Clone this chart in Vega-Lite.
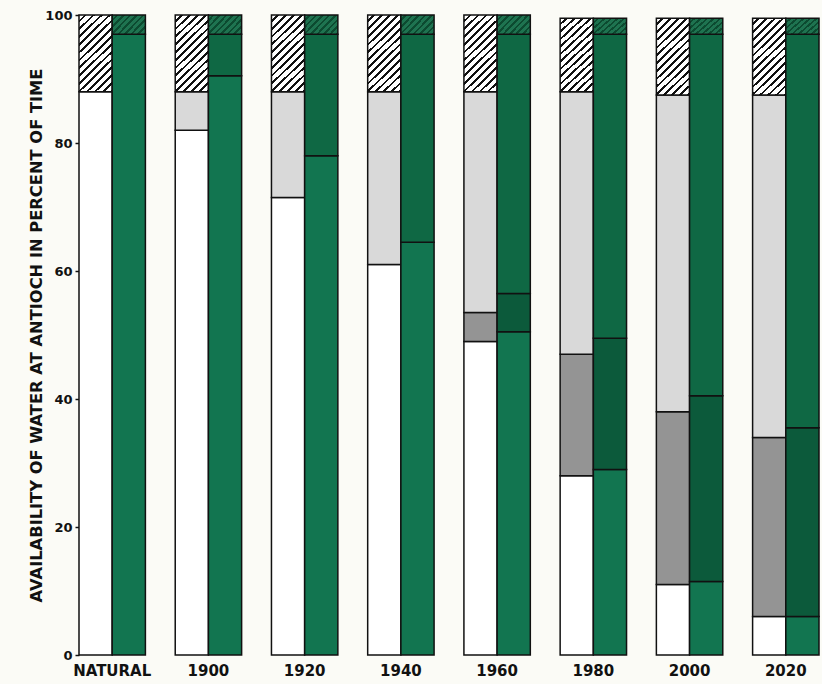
{
  "$schema": "https://vega.github.io/schema/vega-lite/v6.json",
  "autosize": {"type": "none"},
  "padding": {"left": 79, "top": 15, "right": 3, "bottom": 29},
  "width": 740,
  "height": 640,
  "background": "#fbfbf6",
  "config": {"view": {"stroke": null}, "axis": {"grid": false}},
  "data": {
    "values": [
      {"period": "NATURAL", "bar": "left", "segment": 1, "kind": "L1", "share": 88},
      {"period": "NATURAL", "bar": "left", "segment": 4, "kind": "L4", "share": 12},
      {"period": "NATURAL", "bar": "right", "segment": 1, "kind": "G1", "share": 97},
      {"period": "NATURAL", "bar": "right", "segment": 4, "kind": "G4", "share": 3},
      {"period": "1900", "bar": "left", "segment": 1, "kind": "L1", "share": 82},
      {"period": "1900", "bar": "left", "segment": 3, "kind": "L3", "share": 6},
      {"period": "1900", "bar": "left", "segment": 4, "kind": "L4", "share": 12},
      {"period": "1900", "bar": "right", "segment": 1, "kind": "G1", "share": 90.5},
      {"period": "1900", "bar": "right", "segment": 3, "kind": "G3", "share": 6.5},
      {"period": "1900", "bar": "right", "segment": 4, "kind": "G4", "share": 3},
      {"period": "1920", "bar": "left", "segment": 1, "kind": "L1", "share": 71.5},
      {"period": "1920", "bar": "left", "segment": 3, "kind": "L3", "share": 16.5},
      {"period": "1920", "bar": "left", "segment": 4, "kind": "L4", "share": 12},
      {"period": "1920", "bar": "right", "segment": 1, "kind": "G1", "share": 78},
      {"period": "1920", "bar": "right", "segment": 3, "kind": "G3", "share": 19},
      {"period": "1920", "bar": "right", "segment": 4, "kind": "G4", "share": 3},
      {"period": "1940", "bar": "left", "segment": 1, "kind": "L1", "share": 61},
      {"period": "1940", "bar": "left", "segment": 3, "kind": "L3", "share": 27},
      {"period": "1940", "bar": "left", "segment": 4, "kind": "L4", "share": 12},
      {"period": "1940", "bar": "right", "segment": 1, "kind": "G1", "share": 64.5},
      {"period": "1940", "bar": "right", "segment": 3, "kind": "G3", "share": 32.5},
      {"period": "1940", "bar": "right", "segment": 4, "kind": "G4", "share": 3},
      {"period": "1960", "bar": "left", "segment": 1, "kind": "L1", "share": 49},
      {"period": "1960", "bar": "left", "segment": 2, "kind": "L2", "share": 4.5},
      {"period": "1960", "bar": "left", "segment": 3, "kind": "L3", "share": 34.5},
      {"period": "1960", "bar": "left", "segment": 4, "kind": "L4", "share": 12},
      {"period": "1960", "bar": "right", "segment": 1, "kind": "G1", "share": 50.5},
      {"period": "1960", "bar": "right", "segment": 2, "kind": "G2", "share": 6},
      {"period": "1960", "bar": "right", "segment": 3, "kind": "G3", "share": 40.5},
      {"period": "1960", "bar": "right", "segment": 4, "kind": "G4", "share": 3},
      {"period": "1980", "bar": "left", "segment": 1, "kind": "L1", "share": 28},
      {"period": "1980", "bar": "left", "segment": 2, "kind": "L2", "share": 19},
      {"period": "1980", "bar": "left", "segment": 3, "kind": "L3", "share": 41},
      {"period": "1980", "bar": "left", "segment": 4, "kind": "L4", "share": 11.5},
      {"period": "1980", "bar": "right", "segment": 1, "kind": "G1", "share": 29},
      {"period": "1980", "bar": "right", "segment": 2, "kind": "G2", "share": 20.5},
      {"period": "1980", "bar": "right", "segment": 3, "kind": "G3", "share": 47.5},
      {"period": "1980", "bar": "right", "segment": 4, "kind": "G4", "share": 2.5},
      {"period": "2000", "bar": "left", "segment": 1, "kind": "L1", "share": 11},
      {"period": "2000", "bar": "left", "segment": 2, "kind": "L2", "share": 27},
      {"period": "2000", "bar": "left", "segment": 3, "kind": "L3", "share": 49.5},
      {"period": "2000", "bar": "left", "segment": 4, "kind": "L4", "share": 12},
      {"period": "2000", "bar": "right", "segment": 1, "kind": "G1", "share": 11.5},
      {"period": "2000", "bar": "right", "segment": 2, "kind": "G2", "share": 29},
      {"period": "2000", "bar": "right", "segment": 3, "kind": "G3", "share": 56.5},
      {"period": "2000", "bar": "right", "segment": 4, "kind": "G4", "share": 2.5},
      {"period": "2020", "bar": "left", "segment": 1, "kind": "L1", "share": 6},
      {"period": "2020", "bar": "left", "segment": 2, "kind": "L2", "share": 28},
      {"period": "2020", "bar": "left", "segment": 3, "kind": "L3", "share": 53.5},
      {"period": "2020", "bar": "left", "segment": 4, "kind": "L4", "share": 12},
      {"period": "2020", "bar": "right", "segment": 1, "kind": "G1", "share": 6},
      {"period": "2020", "bar": "right", "segment": 2, "kind": "G2", "share": 29.5},
      {"period": "2020", "bar": "right", "segment": 3, "kind": "G3", "share": 61.5},
      {"period": "2020", "bar": "right", "segment": 4, "kind": "G4", "share": 2.5}
    ]
  },
  "mark": {"type": "bar", "stroke": "#111111", "strokeWidth": 1.5, "strokeJoin": "miter"},
  "encoding": {
    "x": {
      "field": "period",
      "type": "nominal",
      "sort": null,
      "scale": {"paddingInner": 0.31, "paddingOuter": 0},
      "axis": {
        "title": null,
        "domain": false,
        "ticks": false,
        "tickSize": 0,
        "labelAngle": 0,
        "labelFont": "DejaVu Sans",
        "labelFontWeight": "bold",
        "labelFontSize": 15,
        "labelPadding": 8,
        "labelColor": "#111111"
      }
    },
    "xOffset": {
      "field": "bar",
      "type": "nominal",
      "sort": ["left", "right"],
      "scale": {"paddingInner": 0, "paddingOuter": 0}
    },
    "y": {
      "field": "share",
      "type": "quantitative",
      "stack": "zero",
      "scale": {"domain": [0, 100], "nice": false},
      "axis": {
        "values": [0, 20, 40, 60, 80, 100],
        "domain": false,
        "tickSize": 4,
        "tickWidth": 1.5,
        "tickColor": "#111111",
        "labelFont": "DejaVu Sans",
        "labelFontWeight": "bold",
        "labelFontSize": 13,
        "labelColor": "#111111",
        "labelPadding": 3,
        "title": "AVAILABILITY OF WATER AT ANTIOCH IN PERCENT OF TIME",
        "titleFont": "DejaVu Sans",
        "titleFontSize": 16.3,
        "titleFontWeight": "bold",
        "titleColor": "#111111",
        "titlePadding": 0
      }
    },
    "order": {"field": "segment", "type": "quantitative"},
    "color": {
      "condition": [
        {
          "test": "datum.kind === 'L4'",
          "value": {
            "gradient": "linear", "x1": 0, "y1": 0, "x2": 0.507, "y2": 1.207,
            "stops": [
              {"offset": 0, "color": "#ffffff"}, {"offset": 0.0464, "color": "#ffffff"}, {"offset": 0.0464, "color": "#111111"}, {"offset": 0.0714, "color": "#111111"},
              {"offset": 0.0714, "color": "#ffffff"}, {"offset": 0.1179, "color": "#ffffff"}, {"offset": 0.1179, "color": "#111111"}, {"offset": 0.1429, "color": "#111111"},
              {"offset": 0.1429, "color": "#ffffff"}, {"offset": 0.1893, "color": "#ffffff"}, {"offset": 0.1893, "color": "#111111"}, {"offset": 0.2143, "color": "#111111"},
              {"offset": 0.2143, "color": "#ffffff"}, {"offset": 0.2607, "color": "#ffffff"}, {"offset": 0.2607, "color": "#111111"}, {"offset": 0.2857, "color": "#111111"},
              {"offset": 0.2857, "color": "#ffffff"}, {"offset": 0.3321, "color": "#ffffff"}, {"offset": 0.3321, "color": "#111111"}, {"offset": 0.3571, "color": "#111111"},
              {"offset": 0.3571, "color": "#ffffff"}, {"offset": 0.4036, "color": "#ffffff"}, {"offset": 0.4036, "color": "#111111"}, {"offset": 0.4286, "color": "#111111"},
              {"offset": 0.4286, "color": "#ffffff"}, {"offset": 0.475, "color": "#ffffff"}, {"offset": 0.475, "color": "#111111"}, {"offset": 0.5, "color": "#111111"},
              {"offset": 0.5, "color": "#ffffff"}, {"offset": 0.5464, "color": "#ffffff"}, {"offset": 0.5464, "color": "#111111"}, {"offset": 0.5714, "color": "#111111"},
              {"offset": 0.5714, "color": "#ffffff"}, {"offset": 0.6179, "color": "#ffffff"}, {"offset": 0.6179, "color": "#111111"}, {"offset": 0.6429, "color": "#111111"},
              {"offset": 0.6429, "color": "#ffffff"}, {"offset": 0.6893, "color": "#ffffff"}, {"offset": 0.6893, "color": "#111111"}, {"offset": 0.7143, "color": "#111111"},
              {"offset": 0.7143, "color": "#ffffff"}, {"offset": 0.7607, "color": "#ffffff"}, {"offset": 0.7607, "color": "#111111"}, {"offset": 0.7857, "color": "#111111"},
              {"offset": 0.7857, "color": "#ffffff"}, {"offset": 0.8321, "color": "#ffffff"}, {"offset": 0.8321, "color": "#111111"}, {"offset": 0.8571, "color": "#111111"},
              {"offset": 0.8571, "color": "#ffffff"}, {"offset": 0.9036, "color": "#ffffff"}, {"offset": 0.9036, "color": "#111111"}, {"offset": 0.9286, "color": "#111111"},
              {"offset": 0.9286, "color": "#ffffff"}, {"offset": 0.975, "color": "#ffffff"}, {"offset": 0.975, "color": "#111111"}, {"offset": 1, "color": "#111111"}
            ]
          }
        },
        {
          "test": "datum.kind === 'G4'",
          "value": {
            "gradient": "linear", "x1": 0, "y1": 0, "x2": 1.19, "y2": 0.664,
            "stops": [
              {"offset": 0, "color": "#1e7350"}, {"offset": 0.075, "color": "#1e7350"}, {"offset": 0.075, "color": "#0c4a30"}, {"offset": 0.125, "color": "#0c4a30"},
              {"offset": 0.125, "color": "#1e7350"}, {"offset": 0.2, "color": "#1e7350"}, {"offset": 0.2, "color": "#0c4a30"}, {"offset": 0.25, "color": "#0c4a30"},
              {"offset": 0.25, "color": "#1e7350"}, {"offset": 0.325, "color": "#1e7350"}, {"offset": 0.325, "color": "#0c4a30"}, {"offset": 0.375, "color": "#0c4a30"},
              {"offset": 0.375, "color": "#1e7350"}, {"offset": 0.45, "color": "#1e7350"}, {"offset": 0.45, "color": "#0c4a30"}, {"offset": 0.5, "color": "#0c4a30"},
              {"offset": 0.5, "color": "#1e7350"}, {"offset": 0.575, "color": "#1e7350"}, {"offset": 0.575, "color": "#0c4a30"}, {"offset": 0.625, "color": "#0c4a30"},
              {"offset": 0.625, "color": "#1e7350"}, {"offset": 0.7, "color": "#1e7350"}, {"offset": 0.7, "color": "#0c4a30"}, {"offset": 0.75, "color": "#0c4a30"},
              {"offset": 0.75, "color": "#1e7350"}, {"offset": 0.825, "color": "#1e7350"}, {"offset": 0.825, "color": "#0c4a30"}, {"offset": 0.875, "color": "#0c4a30"},
              {"offset": 0.875, "color": "#1e7350"}, {"offset": 0.95, "color": "#1e7350"}, {"offset": 0.95, "color": "#0c4a30"}, {"offset": 1, "color": "#0c4a30"}
            ]
          }
        }
      ],
      "field": "kind",
      "type": "nominal",
      "scale": {
        "domain": ["L1", "L2", "L3", "L4", "G1", "G2", "G3", "G4"],
        "range": ["#ffffff", "#949494", "#d9d9d9", "#b0b0b0", "#127550", "#0c5a3b", "#0f6844", "#1e7350"]
      },
      "legend": null
    }
  }
}
